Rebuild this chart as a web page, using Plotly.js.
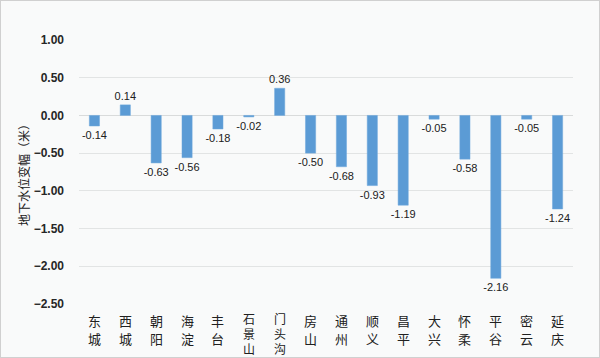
<!DOCTYPE html>
<html><head><meta charset="utf-8">
<script src="https://cdn.plot.ly/plotly-3.0.1.min.js"></script>
<style>
html,body{margin:0;padding:0;background:#fff;}
#c{width:598px;height:356px;border:1px solid #d0d0d0;}
</style></head>
<body><div id="c"></div>
<script>
const districts = ["东城","西城","朝阳","海淀","丰台","石景山","门头沟","房山","通州","顺义","昌平","大兴","怀柔","平谷","密云","延庆"];
const changes = [-0.14,0.14,-0.63,-0.56,-0.18,-0.02,0.36,-0.50,-0.68,-0.93,-1.19,-0.05,-0.58,-2.16,-0.05,-1.24];
const yTicks = [1.0,0.5,0,-0.5,-1.0,-1.5,-2.0,-2.5];

const trace = {
  type: "bar",
  x: districts,
  y: changes,
  width: 0.33,
  marker: {color: "#5b9bd5", line: {color: "#6fa8dc", width: 0.5}},
  text: changes.map(v => v.toFixed(2)),
  textposition: "outside",
  constraintext: "none",
  textfont: {family: "Liberation Sans, Arial, sans-serif", size: 11, color: "#202020"},
  cliponaxis: false,
  hoverinfo: "skip"
};

// vertical stacked category labels (2-char labels spaced wider than 3-char ones)
const annotations = districts.map(name => {
  const chars = name.split("");
  const three = chars.length > 2;
  const outer = three ? 11.5 : 14;
  const inner = three ? 12 : 13;
  return {
    xref: "x", yref: "paper",
    x: name, y: 0,
    yanchor: "top", xanchor: "center",
    yshift: three ? -4 : -5,
    showarrow: false,
    align: "center",
    font: {family: "Noto Sans CJK SC, sans-serif", size: outer, color: "#202020"},
    text: chars.map(c => '<span style="font-size:' + inner + 'px">' + c + '</span>').join("<br>")
  };
});

const layout = {
  width: 598, height: 356,
  margin: {l: 78, r: 26, t: 39, b: 53},
  paper_bgcolor: "#f9fafa",
  plot_bgcolor: "#f9fafa",
  showlegend: false,
  annotations: annotations,
  xaxis: {
    type: "category",
    showgrid: false,
    zeroline: false,
    showline: false,
    ticks: "",
    showticklabels: false
  },
  yaxis: {
    range: [-2.5, 1.0],
    tickvals: yTicks,
    tickformat: ".2f",
    showgrid: true,
    gridcolor: "#e2e4e4",
    gridwidth: 1,
    zeroline: true,
    zerolinecolor: "#d9dbdb",
    zerolinewidth: 1,
    showline: false,
    ticks: "",
    tickfont: {family: "Liberation Sans, Arial, sans-serif", size: 12, color: "#262626", weight: "bold"},
    ticklabelstandoff: 14,
    title: {text: "地下水位变幅（米）", standoff: 1,
            font: {family: "Noto Sans CJK SC, sans-serif", size: 12, color: "#202020"}}
  }
};

Plotly.newPlot("c", [trace], layout, {staticPlot: true, displayModeBar: false});
</script></body></html>
